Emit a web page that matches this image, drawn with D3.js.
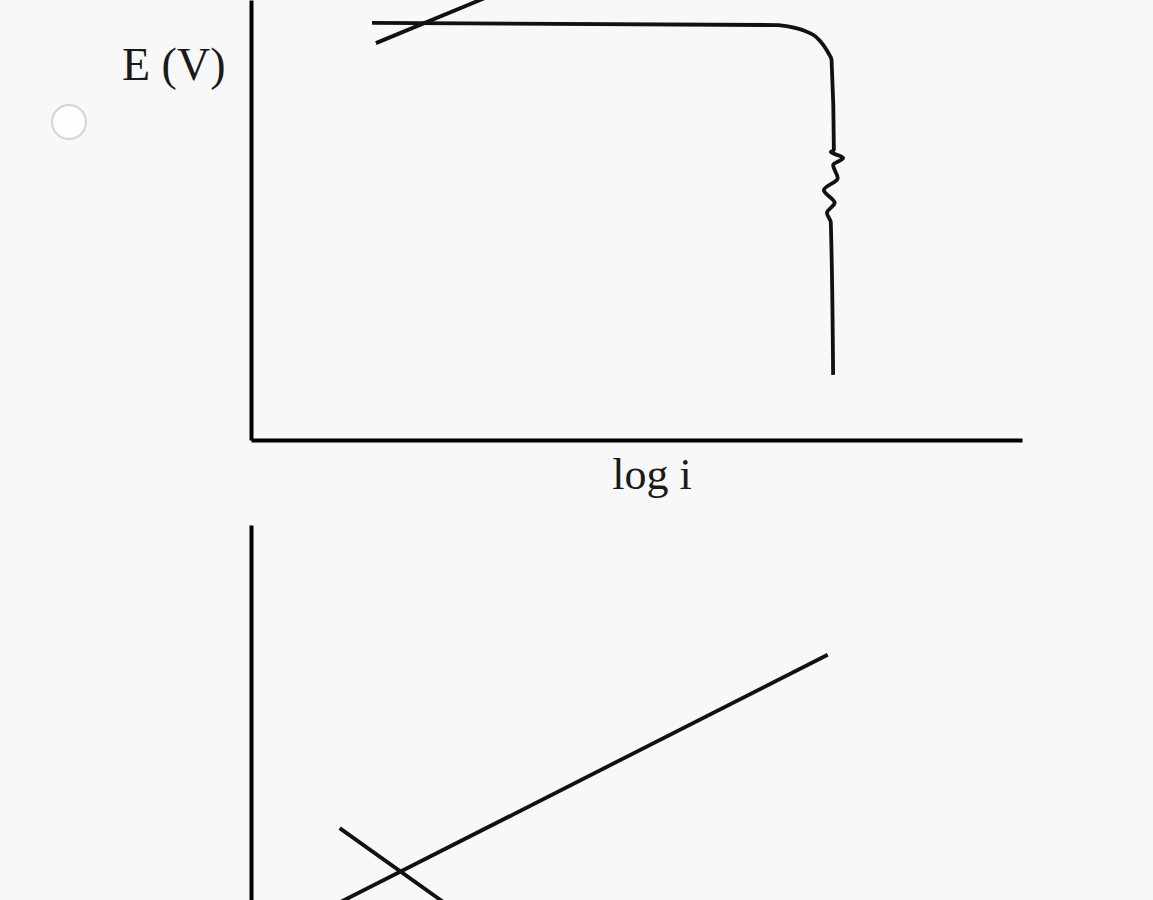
<!DOCTYPE html>
<html>
<head>
<meta charset="utf-8">
<script src="https://cdn.jsdelivr.net/npm/d3@7"></script>
<style>
  html, body { margin: 0; padding: 0; background: #f8f8f8; }
  svg { display: block; }
  text { font-family: "Liberation Serif", "Times New Roman", serif; fill: #1a1a1a; }
</style>
</head>
<body>
<svg id="chart" width="1153" height="900"></svg>
<script>
// Polarization sketch, E (V) against log i, in arbitrary units (0–10 on each axis)

// Upper diagram: active–passive curve with a pitting wiggle
const passiveLogI = [1.57, 6.84, 7.07, 7.27, 7.40, 7.48, 7.53, 7.56, 7.52, 7.68, 7.55, 7.61, 7.43, 7.57, 7.47, 7.52, 7.55];
const passiveE    = [9.48, 9.43, 9.36, 9.23, 9.03, 8.82, 8.64, 6.59, 6.55, 6.41, 6.25, 5.95, 5.68, 5.39, 5.16, 4.95, 1.48];

// Upper diagram: cathodic Tafel line crossing the passive plateau
const cathodicTopLogI = [1.62, 3.66];
const cathodicTopE    = [9.02, 10.5];

// Lower diagram: two Tafel lines crossing near the bottom
const anodicLowLogI   = [0.45, 7.48];
const anodicLowE      = [0.80, 7.05];
const cathodicLowLogI = [1.15, 3.00];
const cathodicLowE    = [3.11, 0.80];

// Axis titles
const yTitle = "E (V)";
const xTitle = "log i";

const svg = d3.select("#chart");

const x = d3.scaleLinear().domain([0, 10]).range([251, 1022]);
const yTop = d3.scaleLinear().domain([0, 10]).range([440, 0]);
const yLow = d3.scaleLinear().domain([0, 10]).range([965, 525]);

const zip = (xs, ys) => xs.map((v, i) => [v, ys[i]]);

// answer-choice radio button
svg.append("circle")
  .attr("cx", 69).attr("cy", 122).attr("r", 17)
  .attr("fill", "#fdfdfd").attr("stroke", "#d4d4d4").attr("stroke-width", 2);

// ---- upper diagram ----
const gTop = svg.append("g");

gTop.append("g")
  .attr("transform", `translate(0,${yTop(0)})`)
  .call(d3.axisBottom(x).tickValues([]).tickSizeOuter(0))
  .call(g => g.select(".domain").attr("stroke", "#000").attr("stroke-width", 4));

gTop.append("g")
  .attr("transform", `translate(${x(0)},0)`)
  .call(d3.axisLeft(yTop).tickValues([]).tickSizeOuter(0))
  .call(g => g.select(".domain").attr("stroke", "#000").attr("stroke-width", 4));

const lineTop = d3.line().x(d => x(d[0])).y(d => yTop(d[1]));
// E falls monotonically along the curve, so a monotone-in-E spline keeps the
// straight runs straight while rounding the knee and the wiggle
const curveTop = d3.line().x(d => x(d[0])).y(d => yTop(d[1])).curve(d3.curveMonotoneY);

gTop.append("path")
  .datum(zip(passiveLogI, passiveE))
  .attr("d", curveTop)
  .attr("fill", "none").attr("stroke", "#111").attr("stroke-width", 3.8)
  .attr("stroke-linejoin", "round");

gTop.append("path")
  .datum(zip(cathodicTopLogI, cathodicTopE))
  .attr("d", lineTop)
  .attr("fill", "none").attr("stroke", "#111").attr("stroke-width", 3.8);

gTop.append("text")
  .attr("x", 122).attr("y", 80)
  .attr("font-size", 46)
  .text(yTitle);

gTop.append("text")
  .attr("x", x(5.2)).attr("y", 489)
  .attr("font-size", 44)
  .attr("text-anchor", "middle")
  .text(xTitle);

// ---- lower diagram ----
const gLow = svg.append("g");

gLow.append("g")
  .attr("transform", `translate(${x(0)},0)`)
  .call(d3.axisLeft(yLow).tickValues([]).tickSizeOuter(0))
  .call(g => g.select(".domain").attr("stroke", "#000").attr("stroke-width", 4));

const lineLow = d3.line().x(d => x(d[0])).y(d => yLow(d[1]));

[zip(anodicLowLogI, anodicLowE), zip(cathodicLowLogI, cathodicLowE)].forEach(pts => {
  gLow.append("path")
    .datum(pts)
    .attr("d", lineLow)
    .attr("fill", "none").attr("stroke", "#111").attr("stroke-width", 3.8);
});
</script>
</body>
</html>
